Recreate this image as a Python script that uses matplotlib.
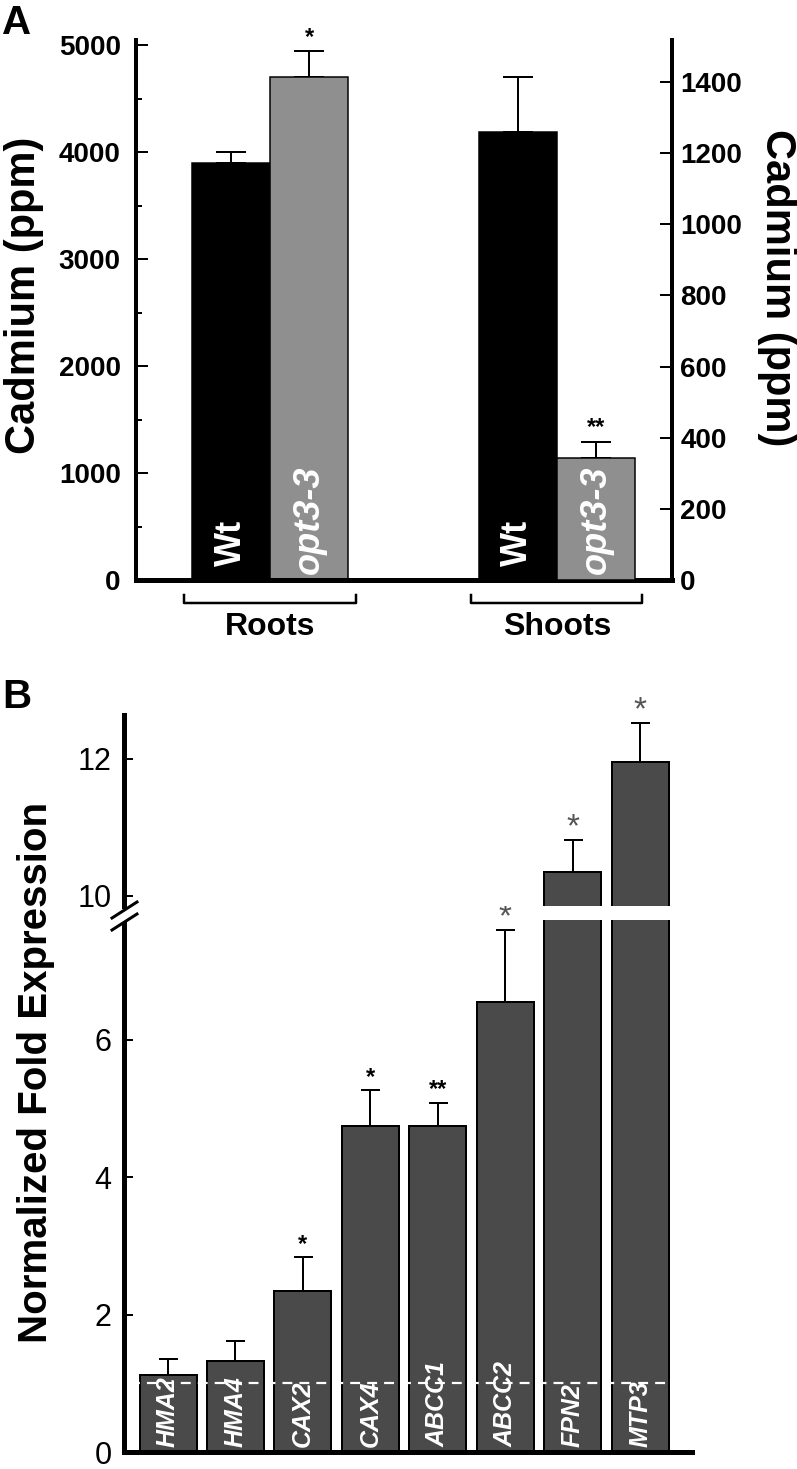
import numpy as np
import matplotlib
matplotlib.use('Agg')
import matplotlib.pyplot as plt
import matplotlib.transforms as mtransforms
from matplotlib.lines import Line2D
from matplotlib.patches import Polygon

plt.rcParams['font.family'] = ['Liberation Sans', 'DejaVu Sans']

# Panel A: cadmium content (ppm); roots on left axis, shoots on right axis
tissues = ['Roots', 'Shoots']
genotypes = ['Wt', 'opt3-3']
wt_cd = [3900, 1260]
wt_err = [100, 155]
opt_cd = [4700, 343]
opt_err = [240, 45]
opt_sig = ['*', '**']

# Panel B: normalized fold expression in opt3-3
genes = ['HMA2', 'HMA4', 'CAX2', 'CAX4', 'ABCC1', 'ABCC2', 'FPN2', 'MTP3']
fold = [1.12, 1.33, 2.34, 4.74, 4.74, 6.55, 10.34, 11.96]
fold_err = [0.24, 0.28, 0.49, 0.52, 0.34, 1.05, 0.48, 0.57]
fold_sig = ['', '', '*', '*', '**', '*', '*', '*']

W, H = 797, 1469
fig = plt.figure(figsize=(W / 100, H / 100), dpi=100)


def box(l, t, r, b):
    return [l / W, 1 - b / H, (r - l) / W, (b - t) / H]


def pt(px):
    return px * 0.72


# ---------------- Panel A ----------------
axA = fig.add_axes(box(136, 40, 672, 580))
axA2 = axA.twinx()
xA = np.arange(len(tissues))
w = 0.272
grey = '#8f8f8f'

for i, ax in enumerate([axA, axA2]):
    ax.bar(xA[i] - w / 2, wt_cd[i], w, color='black', edgecolor='black', lw=pt(1.5), zorder=2)
    ax.bar(xA[i] + w / 2, opt_cd[i], w, color=grey, edgecolor='black', lw=pt(1.5), zorder=2)
    ax.errorbar(xA[i] - w / 2, wt_cd[i], yerr=[[0], [wt_err[i]]], fmt='none', ecolor='black',
                elinewidth=pt(2), capsize=pt(15), capthick=pt(2), zorder=1)
    ax.errorbar(xA[i] + w / 2, opt_cd[i], yerr=[[0], [opt_err[i]]], fmt='none', ecolor='black',
                elinewidth=pt(2), capsize=pt(15), capthick=pt(2), zorder=1)
    ax.annotate(opt_sig[i], xy=(xA[i] + w / 2, opt_cd[i] + opt_err[i]), xytext=(0, 14),
                textcoords='offset pixels', ha='center', va='center', fontsize=17, fontweight='bold')
    ax.annotate(genotypes[0], xy=(xA[i] - w / 2, 0), xytext=(0, 14), textcoords='offset pixels',
                rotation=90, ha='center', va='bottom', color='white', fontsize=26, fontweight='bold')
    ax.annotate(genotypes[1], xy=(xA[i] + w / 2, 0), xytext=(0, 6), textcoords='offset pixels',
                rotation=90, ha='center', va='bottom', color='white', fontsize=26,
                fontweight='bold', fontstyle='italic')

axA.set_xlim(-0.467, 1.401)
axA.set_ylim(0, 5047)
axA2.set_ylim(0, 1518)
axA.set_xticks([])
axA2.set_xticks([])

lt = list(range(0, 5001, 1000))
axA.set_yticks(lt, labels=[str(v) for v in lt], fontweight='bold')
axA.set_yticks(np.arange(500, 5000, 1000), minor=True)
axA.tick_params(axis='y', which='major', direction='in', length=pt(12), width=pt(2),
                labelsize=20, pad=11)
axA.tick_params(axis='y', which='minor', direction='in', length=pt(6), width=pt(2))
rt = list(range(0, 1401, 200))
axA2.set_yticks(rt, labels=[str(v) for v in rt], fontweight='bold')
axA2.tick_params(axis='y', which='major', direction='in', length=pt(12), width=pt(2),
                 labelsize=20, pad=6)

for s in ['top', 'right']:
    axA.spines[s].set_visible(False)
for s in ['top', 'left', 'bottom']:
    axA2.spines[s].set_visible(False)
axA.spines['left'].set_linewidth(pt(4))
axA.spines['bottom'].set_linewidth(pt(5))
axA2.spines['right'].set_linewidth(pt(4))

trans = mtransforms.blended_transform_factory(axA.transData, axA.transAxes)
for i, t in enumerate(tissues):
    xs = [xA[i] - 0.298, xA[i] - 0.298, xA[i] + 0.298, xA[i] + 0.298]
    axA.plot(xs, [-0.028, -0.043, -0.043, -0.028], transform=trans, color='black',
             lw=pt(2.5), clip_on=False)
    axA.text(xA[i], -0.087, t, transform=trans, ha='center', va='center', fontsize=23,
             fontweight='bold')

fig.text(24 / W, 1 - 295 / H, 'Cadmium (ppm)', rotation=90, ha='center', va='center',
         fontsize=30, fontweight='bold')
fig.text(777 / W, 1 - 288 / H, 'Cadmium (ppm)', rotation=270, ha='center', va='center',
         fontsize=30, fontweight='bold')
fig.text(2 / W, 1 - 4 / H, 'A', ha='left', va='top', fontsize=29, fontweight='bold')

# ---------------- Panel B ----------------
axL = fig.add_axes(box(124, 920, 692, 1452))
axU = fig.add_axes(box(124, 715, 692, 906))
xB = np.arange(len(genes))
wB = 0.846

for ax in [axL, axU]:
    ax.bar(xB, fold, wB, color='#4a4a4a', edgecolor='black', lw=pt(2), zorder=2)
    ax.errorbar(xB, fold, yerr=[np.zeros(len(fold)), fold_err], fmt='none', ecolor='black',
                elinewidth=pt(2), capsize=pt(9.5), capthick=pt(2), zorder=1)
    for i in range(len(genes)):
        if fold_sig[i]:
            if i >= 5:
                ax.annotate(fold_sig[i], xy=(xB[i], fold[i] + fold_err[i]), xytext=(0, 12),
                            textcoords='offset pixels', ha='center', va='center',
                            fontsize=24, color='#555555')
            else:
                ax.annotate(fold_sig[i], xy=(xB[i], fold[i] + fold_err[i]), xytext=(0, 13),
                            textcoords='offset pixels', ha='center', va='center',
                            fontsize=17, fontweight='bold')
    ax.set_xlim(-0.653, 7.77)
    ax.set_xticks([])
    ax.spines['top'].set_visible(False)
    ax.spines['right'].set_visible(False)
    ax.spines['left'].set_linewidth(pt(5))
    ax.tick_params(axis='y', direction='in', length=pt(9), width=pt(2), labelsize=22, pad=9)

axL.set_ylim(0, 7.74)
axU.set_ylim(9.85, 12.64)
axL.set_yticks([0, 2, 4, 6])
axU.set_yticks([10, 12])
axL.spines['bottom'].set_linewidth(pt(5))
axU.spines['bottom'].set_visible(False)

for i, g in enumerate(genes):
    axL.annotate(g, xy=(xB[i], 0), xytext=(0, 5), textcoords='offset pixels', rotation=90,
                 ha='center', va='bottom', color='white', fontsize=18, fontweight='bold',
                 fontstyle='italic', zorder=4)

axL.plot([xB[0] - 0.564, xB[-1] + wB / 2], [1, 1], color='white', lw=pt(2.2),
         dashes=(4.5, 3.2), zorder=3)

# axis break marks
def fpt(x, y):
    return (x / W, 1 - y / H)

fig.add_artist(Polygon([fpt(110, 920), fpt(140, 900), fpt(140, 912), fpt(110, 932)],
                       closed=True, facecolor='white', edgecolor='none',
                       transform=fig.transFigure))
for (x0, y0, x1, y1) in [(112, 918, 137, 902), (112, 930, 137, 914)]:
    fig.add_artist(Line2D([x0 / W, x1 / W], [1 - y0 / H, 1 - y1 / H], color='black',
                          lw=pt(3), transform=fig.transFigure))

fig.text(36 / W, 1 - 1072 / H, 'Normalized Fold Expression', rotation=90, ha='center',
         va='center', fontsize=29, fontweight='bold')
fig.text(2 / W, 1 - 678 / H, 'B', ha='left', va='top', fontsize=29, fontweight='bold')

fig.savefig('out.png', dpi=100)
